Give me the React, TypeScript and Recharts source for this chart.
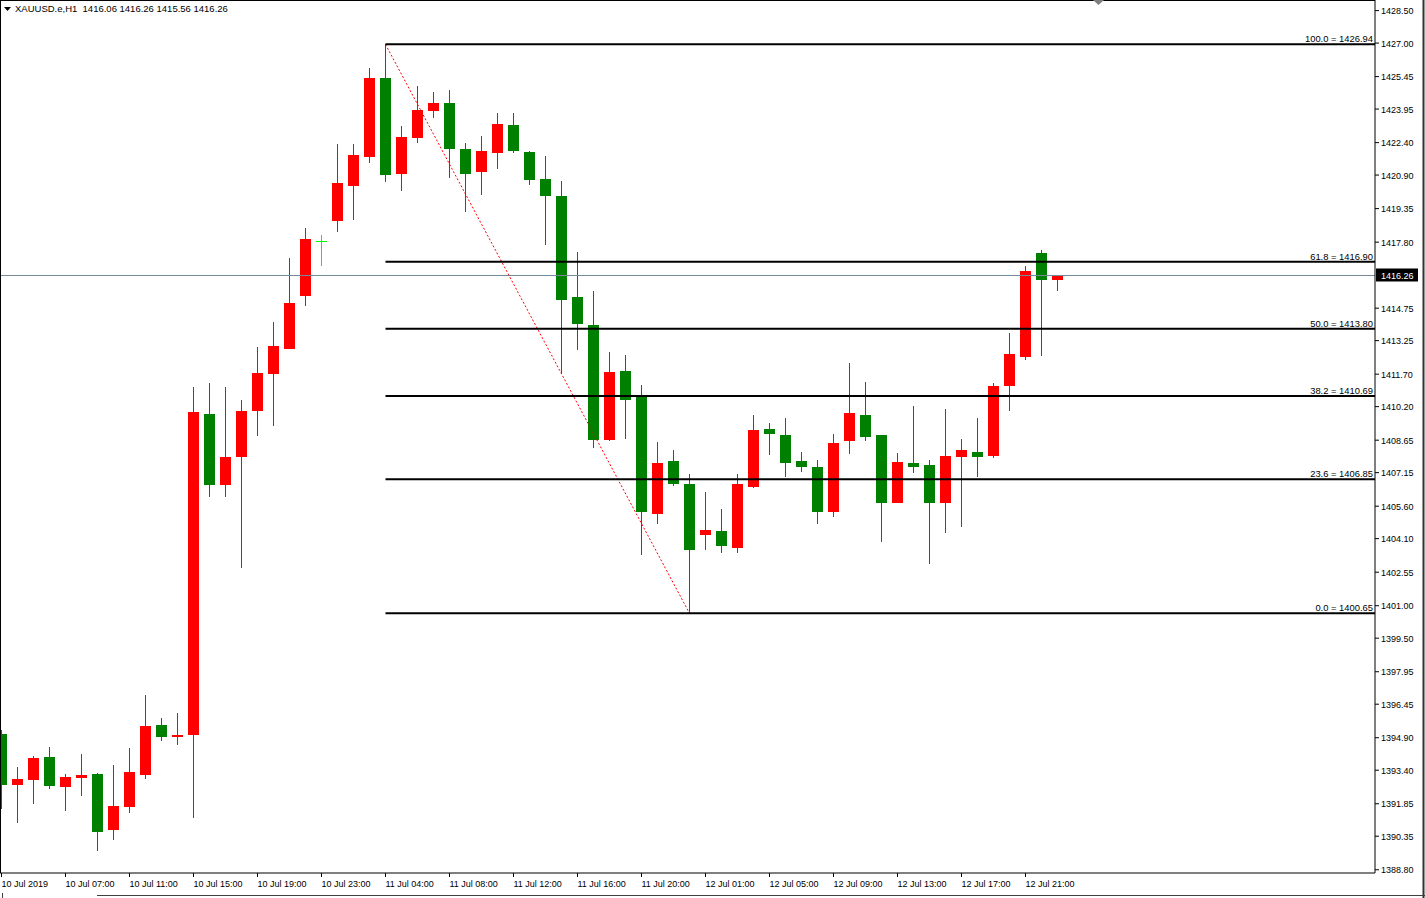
import React from 'react';
import { ComposedChart, Bar, XAxis, YAxis, ReferenceLine } from 'recharts';

// ---- data (H1 candles, XAUUSD, 10 Jul 03:00 .. 12 Jul 23:00) ----
const opens = [
  1395.08, 1392.72, 1392.95, 1394.01, 1392.63, 1393.04, 1393.23, 1390.64, 1391.70, 1393.18,
  1395.49, 1394.94, 1395.03, 1409.86, 1406.58, 1407.87, 1410.00, 1411.71, 1412.87, 1415.32,
  1417.86, 1418.78, 1420.40, 1421.74, 1425.39, 1420.95, 1422.62, 1423.87, 1424.23, 1422.11,
  1421.05, 1421.92, 1423.22, 1421.97, 1420.72, 1419.94, 1415.27, 1413.98, 1408.66, 1411.85,
  1410.65, 1405.24, 1407.69, 1406.63, 1404.27, 1404.46, 1403.67, 1406.49, 1409.17, 1408.89,
  1407.69, 1407.41, 1405.33, 1408.62, 1409.82, 1408.89, 1405.75, 1407.60, 1407.51, 1405.75,
  1407.88, 1408.11, 1407.92, 1411.16, 1412.50, 1417.30, 1416.06,
];
const highs = [
  1395.26, 1393.55, 1394.06, 1394.47, 1393.23, 1394.15, 1393.27, 1393.64, 1394.43, 1396.88,
  1395.82, 1396.05, 1411.11, 1411.30, 1411.11, 1410.51, 1412.96, 1414.11, 1417.07, 1418.46,
  1418.13, 1422.34, 1422.34, 1425.85, 1426.94, 1423.17, 1425.02, 1424.74, 1424.84, 1422.39,
  1422.71, 1423.77, 1423.77, 1422.02, 1421.79, 1420.63, 1417.35, 1415.55, 1412.73, 1412.59,
  1411.20, 1408.57, 1408.20, 1407.09, 1406.26, 1405.47, 1407.09, 1409.82, 1409.45, 1409.68,
  1408.11, 1407.74, 1408.94, 1412.22, 1411.34, 1408.89, 1408.06, 1410.23, 1407.74, 1410.09,
  1408.71, 1409.68, 1411.30, 1413.61, 1416.70, 1417.44, 1416.26,
];
const lows = [
  1391.61, 1390.96, 1391.84, 1392.53, 1391.52, 1392.21, 1389.67, 1390.18, 1391.42, 1393.00,
  1394.75, 1394.57, 1391.19, 1406.03, 1406.03, 1402.74, 1408.85, 1409.31, 1412.87, 1414.85,
  1416.70, 1418.27, 1418.83, 1421.46, 1420.58, 1420.17, 1422.39, 1423.54, 1420.77, 1419.20,
  1419.98, 1421.18, 1421.92, 1420.45, 1417.67, 1411.71, 1412.82, 1408.29, 1408.62, 1408.71,
  1403.35, 1404.78, 1406.54, 1400.65, 1403.58, 1403.44, 1403.44, 1406.45, 1407.97, 1406.95,
  1407.18, 1404.78, 1405.10, 1408.01, 1408.62, 1403.95, 1405.75, 1407.14, 1402.93, 1404.36,
  1404.64, 1406.95, 1407.83, 1410.00, 1412.36, 1412.54, 1415.56,
];
const closes = [
  1392.72, 1393.00, 1393.97, 1392.67, 1393.09, 1393.18, 1390.55, 1391.75, 1393.32, 1395.45,
  1394.94, 1395.03, 1409.96, 1406.58, 1407.87, 1410.00, 1411.76, 1413.00, 1414.99, 1417.95,
  1417.86, 1420.54, 1421.83, 1425.39, 1420.91, 1422.66, 1423.91, 1424.23, 1422.11, 1420.95,
  1422.02, 1423.26, 1422.02, 1420.68, 1419.94, 1415.13, 1414.02, 1408.66, 1411.80, 1410.51,
  1405.33, 1407.60, 1406.63, 1403.58, 1404.50, 1403.76, 1406.63, 1409.12, 1408.94, 1407.60,
  1407.41, 1405.33, 1408.52, 1409.91, 1408.80, 1405.75, 1407.65, 1407.41, 1405.75, 1407.92,
  1408.20, 1407.88, 1411.16, 1412.64, 1416.47, 1416.06, 1416.26,
];

const xTickLabels = [
  '10 Jul 2019', '10 Jul 07:00', '10 Jul 11:00', '10 Jul 15:00', '10 Jul 19:00', '10 Jul 23:00',
  '11 Jul 04:00', '11 Jul 08:00', '11 Jul 12:00', '11 Jul 16:00', '11 Jul 20:00',
  '12 Jul 01:00', '12 Jul 05:00', '12 Jul 09:00', '12 Jul 13:00', '12 Jul 17:00', '12 Jul 21:00',
];
const yTickLabels = [
  '1428.50', '1427.00', '1425.45', '1423.95', '1422.40', '1420.90', '1419.35', '1417.80',
  '1414.75', '1413.25', '1411.70', '1410.20', '1408.65', '1407.15', '1405.60', '1404.10',
  '1402.55', '1401.00', '1399.50', '1397.95', '1396.45', '1394.90', '1393.40', '1391.85',
  '1390.35', '1388.80',
];
const fibRatios = ['100.0', '61.8', '50.0', '38.2', '23.6', '0.0'];
const fibPrices = [1426.94, 1416.90, 1413.80, 1410.69, 1406.85, 1400.65];
const bidPrice = 1416.26;
const symbolText = 'XAUUSD.e,H1';
const fibStartIdx = 24;
const fibEndIdx = 43;

// ---- layout ----
const W = 1425;
const H = 898;
const X_MIN = -0.09375;
const X_MAX = 85.84375;
const Y_MIN = 1388.65;
const Y_MAX = 1428.99;
const FONT = '"Liberation Sans", Arial, sans-serif';
const RED = '#ff0000';
const GREEN = '#008000';
const DOJI = '#00ff00';

const data = opens.map((o, i) => ({
  i,
  open: o,
  high: highs[i],
  low: lows[i],
  close: closes[i],
  range: [lows[i], highs[i]],
}));
const xTicks = xTickLabels.map((_, k) => k * 4);
const yTicks = yTickLabels.map((s) => parseFloat(s));

const Candle = (props: any) => {
  const { x, y, width, height, payload } = props;
  const { open, close, high, low } = payload;
  const top = Math.min(y, y + height);
  const h = Math.abs(height);
  const span = high - low;
  const py = (p: number) => (span > 0 ? top + ((high - p) / span) * h : top);
  const cx = Math.floor(x + width / 2) + 0.5;
  const color = close > open ? RED : close < open ? GREEN : DOJI;
  const bTop = Math.round(py(Math.max(open, close)));
  const bBot = Math.round(py(Math.min(open, close)));
  const wTop = Math.round(py(high));
  const wBot = Math.round(py(low));
  return (
    <g shapeRendering="crispEdges">
      <line x1={cx} x2={cx} y1={wTop} y2={wBot} stroke={color} strokeWidth={1} />
      {close === open ? (
        <line x1={cx - 5.5} x2={cx + 5.5} y1={bTop + 0.5} y2={bTop + 0.5} stroke={color} strokeWidth={1} />
      ) : (
        <rect x={cx - 5.5} y={bTop} width={11} height={Math.max(1, bBot - bTop)} fill={color} />
      )}
    </g>
  );
};

const XTick = (props: any) => {
  const { x, y, payload } = props;
  const label = xTickLabels[Math.round(payload.value / 4)];
  return (
    <g>
      <line x1={x} x2={x} y1={y} y2={y + 4} stroke="#000" strokeWidth={1} />
      <text x={x} y={y + 14} fontSize={9} fontFamily={FONT} fill="#000" textAnchor="start">
        {label}
      </text>
    </g>
  );
};

const YTick = (props: any) => {
  const { x, y, payload } = props;
  return (
    <g>
      <line x1={x} x2={x + 4} y1={y} y2={y} stroke="#000" strokeWidth={1} />
      <text x={x + 6} y={y + 3.5} fontSize={9} fontFamily={FONT} fill="#000" textAnchor="start">
        {Number(payload.value).toFixed(2)}
      </text>
    </g>
  );
};

const fibLabel = (text: string) => (props: any) => {
  const vb = props.viewBox || {};
  const right = (vb.x || 0) + (vb.width || 0) - 2;
  return (
    <text x={right} y={vb.y - 2} fontSize={9.4} fontFamily={FONT} fill="#000" textAnchor="end">
      {text}
    </text>
  );
};

const bidLabel = (props: any) => {
  const vb = props.viewBox || {};
  const left = (vb.x || 0) + (vb.width || 0) + 1;
  return (
    <g>
      <rect x={left} y={vb.y - 7} width={42} height={13} fill="#000" />
      <text x={left + 5} y={vb.y + 3.5} fontSize={9} fontFamily={FONT} fill="#fff">
        {bidPrice.toFixed(2)}
      </text>
    </g>
  );
};

export default function App() {
  const last = data.length - 1;
  const header = `${symbolText}  ${opens[last].toFixed(2)} ${highs[last].toFixed(2)} ${lows[last].toFixed(2)} ${closes[last].toFixed(2)}`;
  return (
    <div style={{ position: 'absolute', left: 0, top: 0, width: W, height: H, background: '#fff' }}>
      <ComposedChart
        width={W}
        height={H}
        data={data}
        margin={{ top: 0, right: 0, bottom: 0, left: 0 }}
      >
        <XAxis
          dataKey="i"
          type="number"
          domain={[X_MIN, X_MAX]}
          allowDataOverflow
          ticks={xTicks}
          interval={0}
          tick={<XTick />}
          tickLine={false}
          tickSize={0}
          tickMargin={0}
          axisLine={{ stroke: '#000', strokeWidth: 1 }}
          height={25}
        />
        <YAxis
          orientation="right"
          type="number"
          domain={[Y_MIN, Y_MAX]}
          allowDataOverflow
          ticks={yTicks}
          interval={0}
          tick={<YTick />}
          tickLine={false}
          tickSize={0}
          tickMargin={0}
          axisLine={{ stroke: '#000', strokeWidth: 1 }}
          width={50}
        />
        <ReferenceLine y={bidPrice} stroke="#778899" strokeWidth={1} label={bidLabel} />
        <Bar dataKey="range" barSize={11} shape={Candle} isAnimationActive={false} />
        <ReferenceLine
          segment={[
            { x: fibStartIdx, y: fibPrices[0] },
            { x: fibEndIdx, y: fibPrices[fibPrices.length - 1] },
          ]}
          stroke={RED}
          strokeWidth={1}
          strokeDasharray="2 2"
        />
        {fibPrices.map((p, k) => (
          <ReferenceLine
            key={k}
            segment={[
              { x: fibStartIdx, y: p },
              { x: X_MAX, y: p },
            ]}
            stroke="#000"
            strokeWidth={2}
            label={fibLabel(`${fibRatios[k]} = ${p.toFixed(2)}`)}
          />
        ))}
      </ComposedChart>
      <svg
        width={W}
        height={H}
        style={{ position: 'absolute', left: 0, top: 0, pointerEvents: 'none' }}
      >
        <line x1={0} x2={1375} y1={0.5} y2={0.5} stroke="#000" strokeWidth={1} />
        <line x1={0.5} x2={0.5} y1={0} y2={873} stroke="#000" strokeWidth={1} />
        <line x1={1423.5} x2={1423.5} y1={0} y2={H} stroke="#333" strokeWidth={2} />
        <polygon points="1093,0 1104,0 1098.5,5" fill="#808080" />
        <line x1={97} x2={1425} y1={895.5} y2={895.5} stroke="#404040" strokeWidth={1} />
        <line x1={2.5} x2={2.5} y1={893} y2={898} stroke="#404040" strokeWidth={1} />
        <polygon points="4,7 11,7 7.5,11" fill="#000" />
        <text x={15} y={12} fontSize={9.5} fontFamily={FONT} fill="#000" style={{ whiteSpace: 'pre' }}>
          {header}
        </text>
      </svg>
    </div>
  );
}
